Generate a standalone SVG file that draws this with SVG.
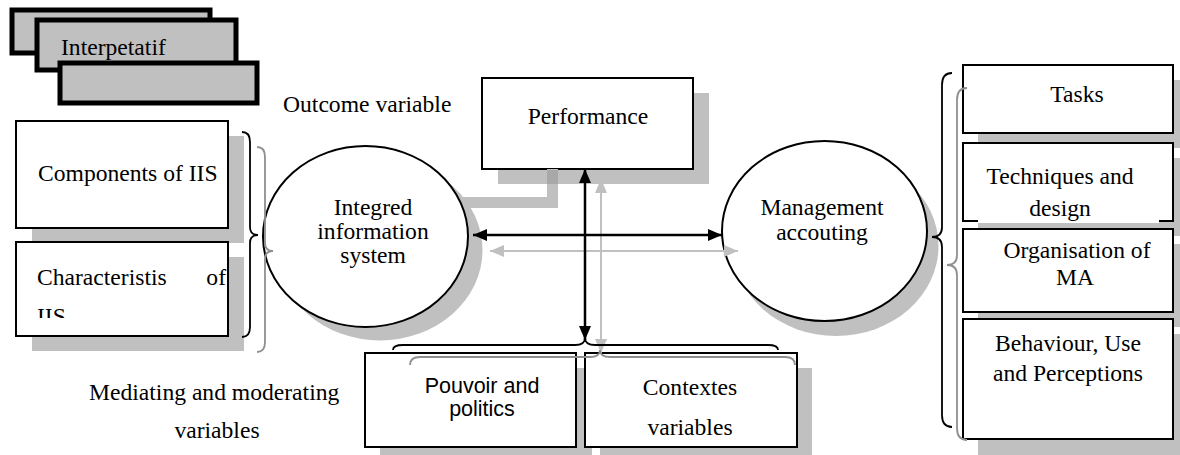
<svg xmlns="http://www.w3.org/2000/svg" width="1180" height="455" viewBox="0 0 1180 455">
<defs>
<style>
.t{font-family:"Liberation Serif","Times New Roman",serif;font-size:23.6px;fill:#000}
.s{font-family:"Liberation Sans",Arial,sans-serif;font-size:21.5px;fill:#000}
.box{fill:#fff;stroke:#000;stroke-width:2}
.sh{fill:#c0c0c0}
.stk{fill:#c0c0c0;stroke:#000;stroke-width:5}
.br{fill:none;stroke:#000;stroke-width:1.8}
.brg{fill:none;stroke:#8f8f8f;stroke-width:1.8}
</style>
<marker id="ab" markerUnits="userSpaceOnUse" markerWidth="14" markerHeight="14" viewBox="0 0 14 14" refX="14" refY="7" orient="auto-start-reverse"><path d="M0,1 L14,7 L0,13 Z" fill="#000"/></marker>
<marker id="ag" markerUnits="userSpaceOnUse" markerWidth="14" markerHeight="14" viewBox="0 0 14 14" refX="14" refY="7" orient="auto-start-reverse"><path d="M0,1 L14,7 L0,13 Z" fill="#c0c0c0"/></marker>
<clipPath id="clipIIS"><rect x="16" y="242" width="212" height="76"/></clipPath>
</defs>
<rect width="1180" height="455" fill="#fff"/>

<g id="interpretatif">
<rect class="stk" x="12" y="10" width="198" height="43"/>
<rect class="stk" x="37" y="20" width="199" height="50"/>
<text class="t" x="61" y="55">Interpetatif</text>
<rect class="stk" x="60" y="63" width="197" height="40"/>
</g>

<text id="outcome-label" class="t" x="283" y="112">Outcome variable</text>

<g id="components">
<rect class="sh" x="32" y="136" width="212" height="107"/>
<rect class="box" x="16" y="121" width="212" height="107"/>
<text class="t" x="38" y="181">Components of IIS</text>
</g>
<g id="characteristics">
<rect class="sh" x="32" y="257" width="212" height="94"/>
<rect class="box" x="16" y="242" width="212" height="94"/>
<text class="t" x="37" y="285">Characteristis</text>
<text class="t" x="226" y="285" text-anchor="end">of</text>
<text class="t" x="37" y="324" clip-path="url(#clipIIS)">IIS</text>
</g>

<g id="performance">
<rect class="sh" x="498" y="93" width="211" height="91"/>
<rect class="box" x="482" y="78" width="211" height="91"/>
<text class="t" x="588" y="124" text-anchor="middle">Performance</text>
</g>

<g id="connectors">
<path d="M462,202.5 L552.5,202.5 L552.5,169" fill="none" stroke="#c0c0c0" stroke-width="11"/>
<rect x="547" y="170" width="11" height="14" fill="#a8a8a8"/>
</g>

<g id="iis">
<ellipse cx="380" cy="250" rx="102.5" ry="90.5" fill="#c0c0c0"/>
<ellipse cx="365.5" cy="236.5" rx="102.5" ry="90.5" fill="#fff" stroke="#000" stroke-width="2"/>
<text class="t" x="373" y="215" text-anchor="middle">Integred</text>
<text class="t" x="373" y="239" text-anchor="middle">information</text>
<text class="t" x="373" y="263" text-anchor="middle">system</text>
</g>

<g id="management">
<ellipse cx="836" cy="246" rx="102.5" ry="90" fill="#c0c0c0"/>
<ellipse cx="824.5" cy="231" rx="102.5" ry="90" fill="#fff" stroke="#000" stroke-width="2"/>
<text class="t" x="822" y="215" text-anchor="middle">Management</text>
<text class="t" x="822" y="240" text-anchor="middle">accouting</text>
</g>

<g id="pouvoir">
<rect class="sh" x="380" y="368" width="212" height="94"/>
<rect class="box" x="365" y="353" width="211" height="94"/>
<text class="s" x="482" y="393" text-anchor="middle">Pouvoir and</text>
<text class="s" x="482" y="416" text-anchor="middle">politics</text>
</g>
<g id="contextes">
<rect class="sh" x="600" y="368" width="212" height="94"/>
<rect class="box" x="585" y="353" width="212" height="94"/>
<text class="t" x="690" y="395" text-anchor="middle">Contextes</text>
<text class="t" x="690" y="435" text-anchor="middle">variables</text>
</g>

<g id="mediating-label">
<text class="t" x="89" y="400">Mediating and moderating</text>
<text class="t" x="217" y="438" text-anchor="middle">variables</text>
</g>

<g id="tasks">
<rect class="sh" x="978" y="80" width="210" height="68"/>
<rect class="box" x="963" y="65" width="210" height="68"/>
<text class="t" x="1077" y="102" text-anchor="middle">Tasks</text>
</g>
<g id="techniques">
<rect class="sh" x="978" y="158" width="210" height="78"/>
<rect class="box" x="963" y="143" width="210" height="78"/>
<rect x="978" y="219" width="181" height="4" fill="#fff"/>
<text class="t" x="1060" y="184" text-anchor="middle">Techniques and</text>
<text class="t" x="1060" y="216" text-anchor="middle">design</text>
</g>
<g id="organisation">
<rect class="sh" x="978" y="244" width="210" height="83"/>
<rect class="box" x="963" y="229" width="210" height="83"/>
<text class="t" x="1077" y="258" text-anchor="middle">Organisation of</text>
<text class="t" x="1075" y="285" text-anchor="middle">MA</text>
</g>
<g id="behaviour">
<rect class="sh" x="978" y="334" width="210" height="121"/>
<rect class="box" x="963" y="319" width="210" height="120"/>
<text class="t" x="1068" y="351" text-anchor="middle">Behaviour, Use</text>
<text class="t" x="1068" y="381" text-anchor="middle">and Perceptions</text>
</g>

<g id="arrows">
<line x1="601" y1="179" x2="601" y2="353" stroke="#c0c0c0" stroke-width="2" marker-start="url(#ag)" marker-end="url(#ag)"/>
<line x1="490" y1="251" x2="738" y2="251" stroke="#c0c0c0" stroke-width="2" marker-start="url(#ag)" marker-end="url(#ag)"/>
<line x1="585" y1="169" x2="585" y2="340" stroke="#000" stroke-width="2.5" marker-start="url(#ab)" marker-end="url(#ab)"/>
<line x1="473" y1="235" x2="722" y2="235" stroke="#000" stroke-width="2.5" marker-start="url(#ab)" marker-end="url(#ab)"/>
</g>

<g id="braces">
<path class="br" d="M242,132 Q250,132 250,142 L250,227 Q250,235 258,235 Q250,235 250,243 L250,327 Q250,337 242,337"/>
<path class="brg" d="M257,147 Q265,147 265,157 L265,243 Q265,251 273,251 Q265,251 265,259 L265,342 Q265,352 257,352"/>
<path class="br" d="M952,73 Q942,73 942,85 L942,227 Q942,237 932,237 Q942,237 942,247 L942,415 Q942,427 952,427"/>
<path class="brg" d="M967,88 Q957,88 957,100 L957,255 Q957,265 947,265 Q957,265 957,275 L957,428 Q957,440 967,440"/>
<path class="br" d="M393,350 Q393,345 403,345 L575,345 Q585,345 585,338 Q585,345 595,345 L768,345 Q778,345 778,350"/>
<path class="brg" d="M410,365 Q410,357 420,357 L590,357 Q600,357 600,350 Q600,357 610,357 L785,357 Q795,357 795,365"/>
</g>
</svg>
